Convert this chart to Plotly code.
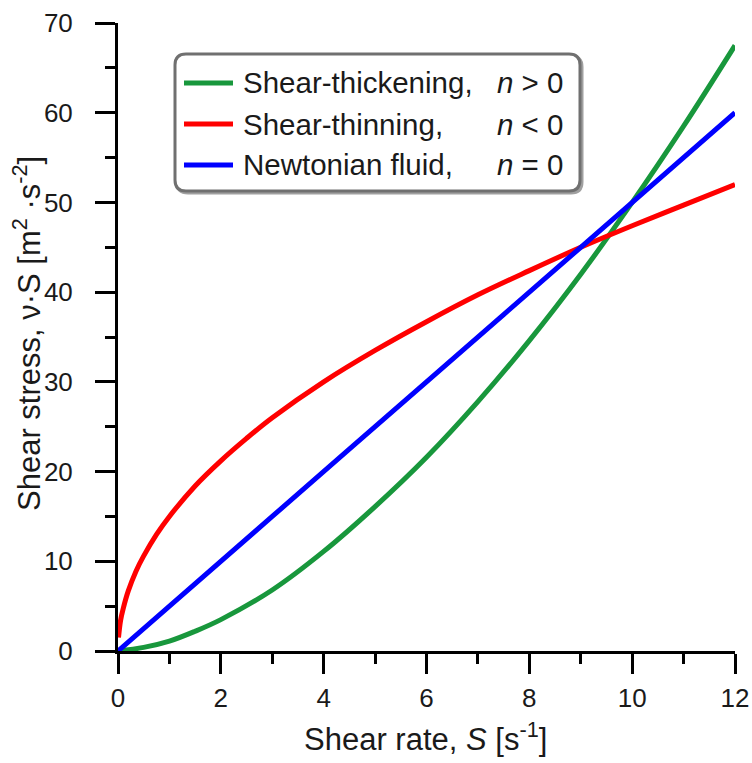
import plotly.graph_objects as go

# Shear rate S [1/s] and shear stress values for the three fluid models
s_thick = [0, 0.5, 1, 1.5, 2, 3, 4, 5, 6, 7, 8, 9, 10, 11, 12]
stress_thick = [0, 0.4, 1.1, 2.2, 3.5, 6.8, 11.1, 16.1, 21.6, 27.8, 34.6, 42.0, 50.0, 58.5, 67.5]

s_thin = [0.01, 0.05, 0.1, 0.2, 0.35, 0.5, 0.75, 1, 1.5, 2, 2.5, 3, 4, 5, 6, 7, 8, 9, 10, 11, 12]
stress_thin = [1.5, 3.4, 4.7, 6.7, 8.9, 10.6, 13.0, 15.0, 18.4, 21.2, 23.7, 26.0, 30.0, 33.5,
               36.7, 39.7, 42.4, 45.0, 47.4, 49.7, 52.0]

s_newt = [0, 3, 6, 9, 12]
stress_newt = [0, 15, 30, 45, 60]

legend_names = ["Shear-thickening,", "Shear-thinning,", "Newtonian fluid,"]
legend_conds = ["<i>n</i> > 0", "<i>n</i> < 0", "<i>n</i> = 0"]
colors = ["#18973c", "#ff0000", "#0000ff"]

x_ticks = [0, 2, 4, 6, 8, 10, 12]
y_ticks = [0, 10, 20, 30, 40, 50, 60, 70]

FONT = "Arial, 'Liberation Sans', sans-serif"
W, H = 752, 763
ML, MR, MT, MB = 118, 17, 23, 112
PW, PH = W - ML - MR, H - MT - MB


def px(xp):
    return (xp - ML) / PW


def py(yp):
    return (H - MB - yp) / PH


fig = go.Figure()
series = [(s_thick, stress_thick), (s_thin, stress_thin), (s_newt, stress_newt)]
for (xs, ys), name, col in zip(series, legend_names, colors):
    fig.add_trace(go.Scatter(x=xs, y=ys, mode="lines", name=name, showlegend=False,
                             line=dict(color=col, width=5, shape="spline", smoothing=1.0)))

axis_common = dict(showline=True, linecolor="black", linewidth=3, showgrid=False, zeroline=False,
                   ticks="outside", ticklen=20, tickwidth=3, tickcolor="black",
                   tickfont=dict(family=FONT, size=26, color="#1a1a1a"))
fig.update_xaxes(range=[0, 12], tickvals=x_ticks, ticklabelstandoff=2,
                 minor=dict(ticks="outside", ticklen=10, tickwidth=3, tickcolor="black", dtick=1),
                 **axis_common)
fig.update_yaxes(range=[0, 70], tickvals=y_ticks, ticklabelstandoff=17,
                 minor=dict(ticks="outside", ticklen=10, tickwidth=3, tickcolor="black", dtick=5),
                 **axis_common)

# legend box: rounded rectangle with soft shadow
bx0, bx1, by0, by1, r = 175, 580, 54, 191, 11


def rounded(x0, x1, y0, y1, rad):
    return (f"M {px(x0 + rad)},{py(y0)} L {px(x1 - rad)},{py(y0)} "
            f"Q {px(x1)},{py(y0)} {px(x1)},{py(y0 + rad)} L {px(x1)},{py(y1 - rad)} "
            f"Q {px(x1)},{py(y1)} {px(x1 - rad)},{py(y1)} L {px(x0 + rad)},{py(y1)} "
            f"Q {px(x0)},{py(y1)} {px(x0)},{py(y1 - rad)} L {px(x0)},{py(y0 + rad)} "
            f"Q {px(x0)},{py(y0)} {px(x0 + rad)},{py(y0)} Z")


shapes = [
    dict(type="path", xref="paper", yref="paper", path=rounded(bx0 + 2, bx1 + 2, by0 + 2, by1 + 2, r),
         line=dict(color="#a0a0a0", width=3), fillcolor="rgba(0,0,0,0)", layer="above"),
    dict(type="path", xref="paper", yref="paper", path=rounded(bx0, bx1, by0, by1, r),
         line=dict(color="#707070", width=3), fillcolor="white", layer="above"),
]
annotations = []
row_y = [83, 124, 165]
for ry, name, cond, col in zip(row_y, legend_names, legend_conds, colors):
    shapes.append(dict(type="line", xref="paper", yref="paper", x0=px(184), x1=px(233),
                       y0=py(ry), y1=py(ry), line=dict(color=col, width=5), layer="above"))
    annotations.append(dict(xref="paper", yref="paper", x=px(241), y=py(ry), text=name,
                            xanchor="left", yanchor="middle", showarrow=False,
                            font=dict(family=FONT, size=29.5, color="#1a1a1a")))
    annotations.append(dict(xref="paper", yref="paper", x=px(565), y=py(ry), text=cond,
                            xanchor="right", yanchor="middle", showarrow=False,
                            font=dict(family=FONT, size=29.5, color="#1a1a1a")))

# axis titles
annotations.append(dict(xref="paper", yref="paper", x=px(425), y=py(737),
                        text="Shear rate, <i>S</i> [s<sup>-1</sup>]", xanchor="center", yanchor="middle",
                        showarrow=False, font=dict(family=FONT, size=31, color="#1a1a1a")))
annotations.append(dict(xref="paper", yref="paper", x=px(27), y=py(334), textangle=-90,
                        text="Shear stress, ν·S [m<sup>2</sup> ·s<sup>-2</sup>]",
                        xanchor="center", yanchor="middle",
                        showarrow=False, font=dict(family=FONT, size=31, color="#1a1a1a")))

fig.update_layout(width=W, height=H, margin=dict(l=ML, r=MR, t=MT, b=MB, autoexpand=False),
                  plot_bgcolor="white", paper_bgcolor="white",
                  shapes=shapes, annotations=annotations, showlegend=False)

fig.write_html("out.html")
